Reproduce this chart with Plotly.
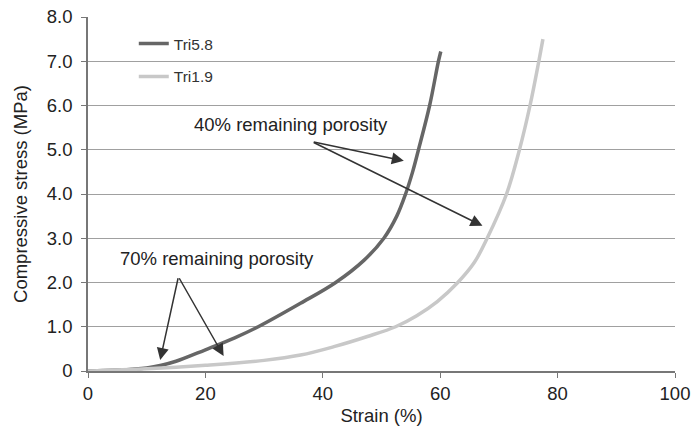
import plotly.graph_objects as go

# Data
strain_tri58 = [0, 5, 10, 12.5, 15, 20, 25, 29, 36.2, 42.2, 47, 50.4, 52.6, 54.1, 55.3, 56.3, 58.2, 59.7, 60.1]
stress_tri58 = [0, 0.02, 0.07, 0.13, 0.22, 0.48, 0.75, 1.0, 1.53, 2.0, 2.5, 3.0, 3.5, 4.0, 4.5, 5.0, 6.0, 7.0, 7.22]

strain_tri19 = [0, 10, 20, 30, 36.2, 41.9, 47.6, 52.4, 56, 59.5, 63, 65.8, 68.0, 71.3, 73.5, 75.3, 76.8, 77.5]
stress_tri19 = [0, 0.05, 0.13, 0.24, 0.36, 0.55, 0.78, 1.0, 1.25, 1.57, 2.0, 2.45, 3.0, 4.0, 5.0, 6.0, 7.0, 7.5]

series_names = ["Tri5.8", "Tri1.9"]
series_colors = ["#666666", "#c8c8c8"]

y_tickvals = [0, 1, 2, 3, 4, 5, 6, 7, 8]
y_ticktext = ["0", "1.0", "2.0", "3.0", "4.0", "5.0", "6.0", "7.0", "8.0"]
x_tickvals = [0, 20, 40, 60, 80, 100]

FONT = "Arial, Liberation Sans, sans-serif"
FS = 18.5

fig = go.Figure()
fig.add_trace(go.Scatter(x=strain_tri58, y=stress_tri58, mode="lines", name=series_names[0],
                         line=dict(color=series_colors[0], width=3.5, shape="spline", smoothing=1.0),
                         legend="legend", showlegend=True))
fig.add_trace(go.Scatter(x=strain_tri19, y=stress_tri19, mode="lines", name=series_names[1],
                         line=dict(color=series_colors[1], width=3.5, shape="spline", smoothing=1.0),
                         legend="legend2", showlegend=True))

arrow_kw = dict(text="", showarrow=True, arrowhead=2, arrowsize=1.6, arrowwidth=1.5,
                arrowcolor="#333333", xref="x", yref="y", axref="x", ayref="y")
# 40% arrows
fig.add_annotation(x=53.8, y=4.75, ax=38.2, ay=5.18, **arrow_kw)
fig.add_annotation(x=67.2, y=3.28, ax=38.2, ay=5.18, **arrow_kw)
# 70% arrows
fig.add_annotation(x=12.3, y=0.25, ax=15.4, ay=2.13, **arrow_kw)
fig.add_annotation(x=23.1, y=0.34, ax=15.4, ay=2.13, **arrow_kw)

fig.add_annotation(x=34.5, y=5.56, text="40% remaining porosity", showarrow=False,
                   font=dict(family=FONT, size=FS, color="#222222"), xref="x", yref="y")
fig.add_annotation(x=22.0, y=2.55, text="70% remaining porosity", showarrow=False,
                   font=dict(family=FONT, size=FS, color="#222222"), xref="x", yref="y")

legend_common = dict(x=0.078, xanchor="left", yanchor="middle", bgcolor="rgba(0,0,0,0)",
                     borderwidth=0, itemwidth=30, font=dict(family=FONT, size=15.5, color="#333333"))

fig.update_layout(
    width=693, height=440,
    margin=dict(l=88, r=18, t=17, b=69),
    paper_bgcolor="white", plot_bgcolor="white",
    font=dict(family=FONT, color="#222222"),
    showlegend=True,
    legend=dict(y=0.924, **legend_common),
    legend2=dict(y=0.831, **legend_common),
    xaxis=dict(range=[0, 100], tickvals=x_tickvals, showgrid=False, zeroline=False,
               showline=True, linecolor="#777777", linewidth=1.5, automargin=False,
               ticks="outside", ticklen=5, tickcolor="#777777",
               tickfont=dict(family=FONT, size=FS, color="#222222"),
               title=dict(text="Strain (%)", font=dict(family=FONT, size=FS, color="#222222"), standoff=6)),
    yaxis=dict(range=[0, 8], tickvals=y_tickvals, ticktext=y_ticktext, automargin=False,
               showgrid=True, gridcolor="#a0a0a0", gridwidth=1.2, zeroline=False,
               showline=True, linecolor="#777777", linewidth=1.5,
               ticks="outside", ticklen=5, tickcolor="#777777", ticklabelstandoff=5,
               tickfont=dict(family=FONT, size=FS, color="#222222"),
               title=dict(text="Compressive stress (MPa)", font=dict(family=FONT, size=FS, color="#222222"), standoff=14)),
)

fig.write_html("out.html")
